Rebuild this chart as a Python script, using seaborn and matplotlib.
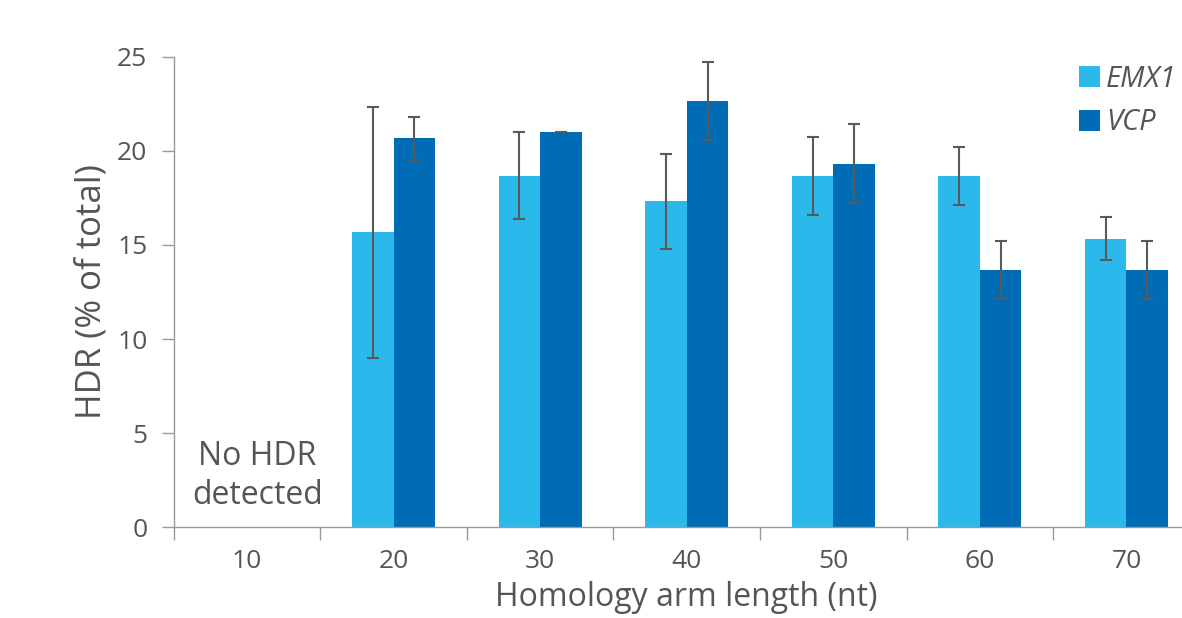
import matplotlib
matplotlib.use("Agg")
import matplotlib.pyplot as plt
import seaborn as sns
import pandas as pd
import numpy as np
from matplotlib.patches import Patch
from matplotlib.container import BarContainer

categories = ["10", "20", "30", "40", "50", "60", "70"]
emx1 = [0, 15.67, 18.67, 17.33, 18.67, 18.67, 15.33]
emx1_err = [0, 6.67, 2.31, 2.52, 2.08, 1.53, 1.15]
vcp = [0, 20.67, 21.0, 22.67, 19.33, 13.67, 13.67]
vcp_err = [0, 1.15, 0.0, 2.08, 2.08, 1.53, 1.53]
series = ["EMX1", "VCP"]
colors = ["#2BB9EC", "#006CB5"]

sns.set_style("white")
plt.rcParams["font.family"] = ["Open Sans", "DejaVu Sans"]

df = pd.DataFrame({
    "length": categories * 2,
    "HDR": emx1 + vcp,
    "gene": [series[0]] * len(categories) + [series[1]] * len(categories),
})

fig = plt.figure(figsize=(11.82, 6.18), dpi=100)
ax = fig.add_axes([0.147, 0.147, 0.868, 0.761])
sns.barplot(data=df, x="length", y="HDR", hue="gene", order=categories,
            hue_order=series, palette=colors, width=0.567, errorbar=None,
            edgecolor="none", ax=ax, legend=False, saturation=1)

errs = [emx1_err, vcp_err]
vals = [emx1, vcp]
bar_conts = [c for c in ax.containers if isinstance(c, BarContainer)]
for ci, cont in enumerate(bar_conts):
    for i, bar in enumerate(cont.patches):
        if vals[ci][i] == 0:
            continue
        xc = bar.get_x() + bar.get_width() / 2
        ax.errorbar(xc, vals[ci][i], yerr=errs[ci][i], fmt="none",
                    ecolor="#5a5a5a", elinewidth=1.5, capsize=4.5, capthick=1.5)

ax.set_ylim(0, 25)
ax.set_xlim(-0.5, len(categories) - 0.5)
ax.set_yticks([0, 5, 10, 15, 20, 25])
ax.set_xticks(np.arange(-0.5, len(categories), 1.0), minor=True)
ax.tick_params(axis="x", which="major", length=0, labelsize=19, labelcolor="#555555", pad=16)
ax.tick_params(axis="x", which="minor", bottom=True, length=9, width=1,
               color="#999999", direction="out")
ax.tick_params(axis="y", which="major", left=True, length=9, width=1, color="#999999",
               labelsize=19, labelcolor="#555555", direction="out", pad=10)
for s in ["top", "right"]:
    ax.spines[s].set_visible(False)
for s in ["left", "bottom"]:
    ax.spines[s].set_color("#999999")
    ax.spines[s].set_linewidth(1)

ax.set_ylabel("HDR (% of total)", fontsize=25, color="#555555", labelpad=6)
ax.set_xlabel("Homology arm length (nt)", fontsize=23, color="#555555", labelpad=5)

ax.text(0.07, 2.7, "No HDR\ndetected", ha="center", va="center", fontsize=23,
        color="#555555", linespacing=1.25)

handles = [Patch(facecolor=c, edgecolor="none") for c in colors]
leg = fig.legend(handles, series, loc="upper left", bbox_to_anchor=(0.913, 0.895),
                 frameon=False, fontsize=21, handlelength=0.72, handleheight=0.72,
                 handletextpad=0.2, labelspacing=0.5, borderaxespad=0, borderpad=0)
for t in leg.get_texts():
    t.set_fontstyle("italic")
    t.set_color("#555555")

fig.savefig("out.png", dpi=100)
